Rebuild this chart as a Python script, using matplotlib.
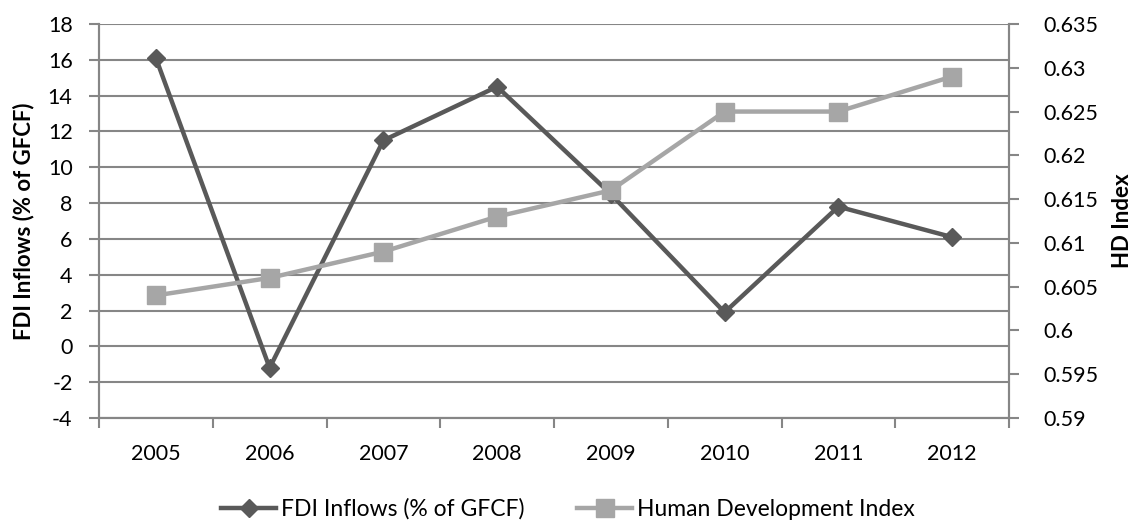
import matplotlib.pyplot as plt
from matplotlib.ticker import FixedLocator, NullFormatter

years = ["2005", "2006", "2007", "2008", "2009", "2010", "2011", "2012"]
fdi = [16.1, -1.2, 11.5, 14.5, 8.5, 1.9, 7.8, 6.1]
hdi = [0.604, 0.606, 0.609, 0.613, 0.616, 0.625, 0.625, 0.629]
hdi_ticks = ['0.59', '0.595', '0.6', '0.605', '0.61', '0.615', '0.62', '0.625', '0.63', '0.635']

plt.rcParams['font.family'] = ['Lato', 'DejaVu Sans']
plt.rcParams['axes.unicode_minus'] = False
dark = '#595959'
light = '#A6A6A6'
grid = '#868686'
fs = 15.5

fig = plt.figure(figsize=(11.36, 5.22), dpi=100)
ax = fig.add_axes([99 / 1136, 1 - 418 / 522, 910 / 1136, 394 / 522])
ax2 = ax.twinx()

x = list(range(len(years)))
ax.plot(x, fdi, color=dark, lw=3.2, marker='D', ms=9.5, label='FDI Inflows (% of GFCF)', zorder=3)
ax2.plot(x, hdi, color=light, lw=3.2, marker='s', ms=12.5, label='Human Development Index', zorder=3)

ax.set_xlim(-0.5, len(years) - 0.5)
ax.set_ylim(-4, 18)
ax.set_yticks(range(-4, 19, 2))
ax2.set_ylim(0.59, 0.635)
ax2.set_yticks([float(t) for t in hdi_ticks])
ax2.set_yticklabels(hdi_ticks)

ax.set_xticks(x)
ax.set_xticklabels(years)
ax.tick_params(axis='x', which='major', length=0, pad=19, labelsize=fs)
ax.xaxis.set_minor_locator(FixedLocator([i - 0.5 for i in range(len(years) + 1)]))
ax.xaxis.set_minor_formatter(NullFormatter())
ax.tick_params(axis='x', which='minor', length=7, width=1.5, color=grid)
ax.tick_params(axis='y', length=7, width=1.5, color=grid, labelsize=fs, pad=12)
ax2.tick_params(axis='y', length=7, width=1.5, color=grid, labelsize=fs, pad=18)

ax.yaxis.grid(True, color=grid, lw=1.5)
ax.set_axisbelow(True)
for a in (ax, ax2):
    a.spines['top'].set_visible(False)
    for s in ('left', 'right', 'bottom'):
        a.spines[s].set_color(grid)
        a.spines[s].set_linewidth(1.5)

ax.set_ylabel('FDI Inflows (% of GFCF)', fontsize=16, fontweight='bold')
ax.yaxis.set_label_coords(-0.071, 0.5)
ax2.set_ylabel('HD Index', fontsize=16, fontweight='bold')
ax2.yaxis.set_label_coords(1.113, 0.5)

h1, l1 = ax.get_legend_handles_labels()
h2, l2 = ax2.get_legend_handles_labels()
fig.legend(h1 + h2, l1 + l2, loc='center', bbox_to_anchor=(0.5, 1 - 509 / 522),
           ncol=2, frameon=False, fontsize=16.5, handlelength=2.4, handletextpad=0.2,
           columnspacing=2.3, borderpad=0)

fig.savefig('out.png', dpi=100)
